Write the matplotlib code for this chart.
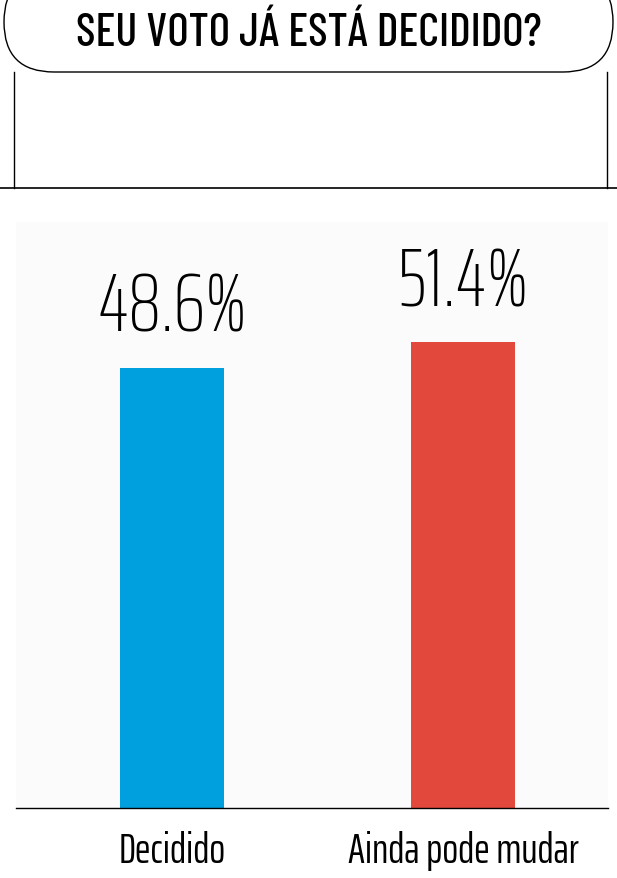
import matplotlib
matplotlib.use('Agg')
import matplotlib.pyplot as plt
from matplotlib.patches import FancyBboxPatch

# data
categories = ['Decidido', 'Ainda pode mudar']
values = [48.6, 51.4]
bar_colors = ['#00a0df', '#e2483b']
title = 'SEU VOTO JÁ ESTÁ DECIDIDO?'

W, H = 617, 879
px_per_unit = 9.06  # bar height in pixels per percentage point
title_font = 'Barlow Condensed'
font = 'Saira ExtraCondensed'

fig = plt.figure(figsize=(W / 100, H / 100), dpi=100)
fig.patch.set_facecolor('white')

### header drawn in pixel coordinates
bg = fig.add_axes([0, 0, 1, 1])
bg.set_xlim(0, W)
bg.set_ylim(H, 0)
bg.axis('off')
box = FancyBboxPatch((4, -27), 609, 100, boxstyle='round,pad=0,rounding_size=50',
                     facecolor='white', edgecolor='black', lw=1.0)
bg.add_patch(box)
bg.plot([14, 14], [73, 189], color='black', lw=1.0)
bg.plot([607, 607], [73, 189], color='black', lw=1.0)
bg.plot([0, W], [189, 189], color='black', lw=1.2)
bg.text(309, 46, title, ha='center', va='baseline', fontsize=33,
        family=title_font, weight=500, color='black')

### bar chart
top_px, base_px = 223, 809
ax = fig.add_axes([16 / W, (H - base_px) / H, (608 - 16) / W, (base_px - top_px) / H])
ax.set_facecolor('#fbfbfb')
x = [0, 1]
ax.bar(x, values, width=0.357, color=bar_colors)
ax.set_xlim(-0.537, 1.498)
ax.set_ylim(0, (base_px - top_px) / px_per_unit)
for s in ['top', 'left', 'right']:
    ax.spines[s].set_visible(False)
ax.spines['bottom'].set_linewidth(1.0)
ax.set_xticks([])
ax.set_yticks([])

for xi, v in zip(x, values):
    ax.text(xi, v + 37 / px_per_unit, f'{v}%', ha='center', va='baseline',
            fontsize=59, family=font, weight=250, color='black')
for xi, c in zip(x, categories):
    ax.text(xi, -54 / px_per_unit, c, ha='center', va='baseline', clip_on=False,
            fontsize=30, family=font, weight=400, color='black')

fig.savefig('out.png', dpi=100, facecolor=fig.get_facecolor())
